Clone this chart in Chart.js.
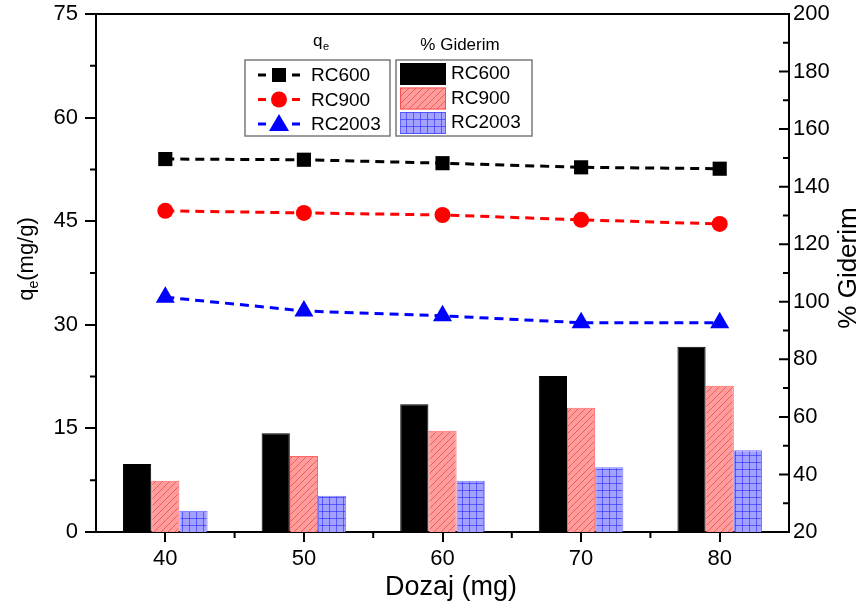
<!DOCTYPE html>
<html>
<head>
<meta charset="utf-8">
<script src="https://cdn.jsdelivr.net/npm/chart.js@4.4.0/dist/chart.umd.min.js"></script>
<style>
  body { margin: 0; background: #fff; }
  #wrap { width: 861px; height: 608px; position: relative; }
</style>
</head>
<body>
<div id="wrap"><canvas id="chart"></canvas></div>
<script>
// dose categories (mg)
const doses = ['40', '50', '60', '70', '80'];

// q_e (mg/g), left axis
const qeRC600 = [54.0, 53.9, 53.4, 52.8, 52.6];
const qeRC900 = [46.5, 46.2, 45.9, 45.2, 44.6];
const qeRC2003 = [34.0, 32.0, 31.3, 30.3, 30.3];

// % Giderim, right axis
const remRC600 = [43.6, 54.3, 64.4, 74.2, 84.4];
const remRC900 = [37.8, 46.4, 55.2, 63.2, 70.8];
const remRC2003 = [27.4, 32.6, 37.8, 42.5, 48.4];

const leftTicks = [0, 15, 30, 45, 60, 75];
const rightTicks = [20, 40, 60, 80, 100, 120, 140, 160, 180, 200];

const FONT = 'Liberation Sans, Arial, sans-serif';

function makePattern(bg, stroke, kind) {
  const c = document.createElement('canvas');
  c.width = 7; c.height = 7;
  const g = c.getContext('2d');
  g.fillStyle = bg;
  g.fillRect(0, 0, 7, 7);
  g.strokeStyle = stroke;
  g.lineWidth = 1;
  if (kind == 'diag') {
    g.beginPath();
    g.moveTo(-1, 8); g.lineTo(8, -1);
    g.moveTo(-1, 1); g.lineTo(1, -1);
    g.moveTo(6, 8); g.lineTo(8, 6);
    g.stroke();
  } else {
    g.beginPath();
    g.moveTo(0, 0.5); g.lineTo(7, 0.5);
    g.moveTo(0.5, 0); g.lineTo(0.5, 7);
    g.stroke();
  }
  return document.getElementById('chart').getContext('2d').createPattern(c, 'repeat');
}

const redHatch = makePattern('#ff9d9d', 'rgba(230,40,40,0.55)', 'diag');
const blueGrid = makePattern('#a3a3ff', 'rgba(40,40,255,0.6)', 'grid');

function drawMarker(ctx, style, x, y, color) {
  ctx.fillStyle = color;
  ctx.beginPath();
  if (style == 'rect') {
    ctx.rect(x - 7, y - 7, 14, 14);
  } else if (style == 'circle') {
    ctx.arc(x, y, 8, 0, Math.PI * 2);
  } else {
    ctx.moveTo(x, y - 10);
    ctx.lineTo(x + 10, y + 7);
    ctx.lineTo(x - 10, y + 7);
    ctx.closePath();
  }
  ctx.fill();
}

// no extra label overflow padding, the plot box is fixed
function fixBox(s, w, h) {
  if (w) s.width = w;
  if (h) s.height = h;
  s.paddingTop = 0; s.paddingBottom = 0;
  s.paddingLeft = 0; s.paddingRight = 0;
}

const decorPlugin = {
  id: 'decor',
  afterDraw(chart) {
    const ctx = chart.ctx;
    const a = chart.chartArea;
    const x = chart.scales.x, y = chart.scales.y, y2 = chart.scales.y2;
    ctx.save();
    ctx.strokeStyle = '#000';
    ctx.lineWidth = 2;
    // top frame
    ctx.beginPath();
    ctx.moveTo(a.left - 1, a.top); ctx.lineTo(a.right + 1, a.top);
    ctx.stroke();
    // left minor ticks (outward)
    ctx.beginPath();
    for (let v = 7.5; v < 75; v += 15) {
      const p = y.getPixelForValue(v);
      ctx.moveTo(a.left - 6, p); ctx.lineTo(a.left, p);
    }
    // right ticks (inward)
    for (let v = 20; v <= 200; v += 10) {
      const p = y2.getPixelForValue(v);
      const len = (v % 20 == 0) ? 10 : 6;
      ctx.moveTo(a.right - len, p); ctx.lineTo(a.right, p);
    }
    // x minor ticks between categories
    for (let i = 0; i < doses.length - 1; i++) {
      const p = (x.getPixelForValue(i) + x.getPixelForValue(i + 1)) / 2;
      ctx.moveTo(p, a.bottom); ctx.lineTo(p, a.bottom + 6);
    }
    ctx.stroke();

    // axis titles
    ctx.fillStyle = '#000';
    ctx.textBaseline = 'alphabetic';
    ctx.textAlign = 'center';
    ctx.font = '27px ' + FONT;
    ctx.fillText('Dozaj (mg)', 451, 595);

    ctx.save();
    ctx.translate(856, 268);
    ctx.rotate(-Math.PI / 2);
    ctx.font = '26px ' + FONT;
    ctx.fillText('% Giderim', 0, 0);
    ctx.restore();

    ctx.save();
    ctx.translate(33, 259);
    ctx.rotate(-Math.PI / 2);
    ctx.textAlign = 'left';
    ctx.font = '22px ' + FONT;
    const w1 = ctx.measureText('q').width;
    ctx.font = '14px ' + FONT;
    const w2 = ctx.measureText('e').width;
    ctx.font = '22px ' + FONT;
    const w3 = ctx.measureText('(mg/g)').width;
    let sx = -(w1 + w2 + w3) / 2;
    ctx.fillText('q', sx, 0);
    ctx.font = '14px ' + FONT;
    ctx.fillText('e', sx + w1, 5);
    ctx.font = '22px ' + FONT;
    ctx.fillText('(mg/g)', sx + w1 + w2, 0);
    ctx.restore();

    // legends
    ctx.lineWidth = 1.5;
    ctx.strokeStyle = '#7a7a7a';
    ctx.strokeRect(245, 60, 145, 76);
    ctx.strokeRect(396, 60, 136, 76);

    ctx.textBaseline = 'middle';
    ctx.font = '17px ' + FONT;
    ctx.textAlign = 'left';
    ctx.fillText('q', 313, 41);
    ctx.font = '11px ' + FONT;
    ctx.fillText('e', 323, 47);
    ctx.font = '17px ' + FONT;
    ctx.textAlign = 'center';
    ctx.fillText('% Giderim', 460, 45);

    const lineItems = chart.data.datasets.filter(d => d.type == 'line');
    const barItems = chart.data.datasets.filter(d => d.type == 'bar');
    ctx.font = '19px ' + FONT;
    ctx.textAlign = 'left';
    lineItems.forEach((d, i) => {
      const ly = 75 + i * 24.5;
      ctx.strokeStyle = d.borderColor;
      ctx.lineWidth = 3;
      ctx.setLineDash([]);
      ctx.beginPath();
      ctx.moveTo(258, ly); ctx.lineTo(266, ly);
      ctx.moveTo(292, ly); ctx.lineTo(300, ly);
      ctx.stroke();
      drawMarker(ctx, d.pointStyle, 279, ly, d.borderColor);
      ctx.fillStyle = '#000';
      ctx.fillText(d.label, 311, ly + 1);
    });
    barItems.forEach((d, i) => {
      const ty = 63 + i * 24.5;
      ctx.fillStyle = d.backgroundColor;
      ctx.fillRect(400, ty, 46, 22);
      ctx.strokeStyle = d.borderColor;
      ctx.lineWidth = 1;
      ctx.strokeRect(400.5, ty + 0.5, 45, 21);
      ctx.fillStyle = '#000';
      ctx.fillText(d.label, 451, ty + 11);
    });
    ctx.restore();
  }
};

function lineSet(label, data, color, style, radius) {
  return {
    type: 'line', label: label, data: data, yAxisID: 'y', order: 0,
    borderColor: color, backgroundColor: color, borderWidth: 3,
    borderDash: [9, 6], pointStyle: style, pointRadius: radius,
    pointBorderWidth: 0, pointBackgroundColor: color, tension: 0
  };
}

function barSet(label, data, fill, border) {
  return {
    type: 'bar', label: label, data: data, yAxisID: 'y2', order: 1,
    backgroundColor: fill, borderColor: border, borderWidth: 1,
    barPercentage: 1.0, categoryPercentage: 0.61
  };
}

new Chart(document.getElementById('chart'), {
  data: {
    labels: doses,
    datasets: [
      lineSet('RC600', qeRC600, '#000000', 'rect', 10),
      lineSet('RC900', qeRC900, '#ff0000', 'circle', 8),
      lineSet('RC2003', qeRC2003, '#0000ff', 'triangle', 11),
      barSet('RC600', remRC600, '#000000', '#000000'),
      barSet('RC900', remRC900, redHatch, 'rgba(255,60,60,0.8)'),
      barSet('RC2003', remRC2003, blueGrid, 'rgba(80,80,255,0.8)')
    ]
  },
  options: {
    responsive: true,
    maintainAspectRatio: false,
    animation: false,
    layout: { padding: { top: 14, left: 0, right: 0, bottom: 0 } },
    plugins: { legend: { display: false }, tooltip: { enabled: false } },
    scales: {
      x: {
        type: 'category',
        offset: true,
        afterFit(s) { fixBox(s, 0, 76); },
        grid: { offset: false, drawOnChartArea: false, drawTicks: true, tickLength: 10, color: '#000', lineWidth: 2 },
        border: { display: true, color: '#000', width: 2 },
        ticks: { color: '#000', font: { family: FONT, size: 22 }, padding: 4 }
      },
      y: {
        position: 'left',
        min: 0, max: 75,
        afterFit(s) { fixBox(s, 96, 0); },
        afterBuildTicks(s) { s.ticks = leftTicks.map(v => ({ value: v })); },
        grid: { drawOnChartArea: false, drawTicks: true, tickLength: 11, color: '#000', lineWidth: 2 },
        border: { display: true, color: '#000', width: 2 },
        ticks: { color: '#000', font: { family: FONT, size: 22 }, padding: 7 }
      },
      y2: {
        position: 'right',
        min: 20, max: 200,
        afterFit(s) { fixBox(s, 72, 0); },
        afterBuildTicks(s) { s.ticks = rightTicks.map(v => ({ value: v })); },
        grid: { drawOnChartArea: false, drawTicks: false, color: '#000' },
        border: { display: true, color: '#000', width: 2 },
        ticks: { color: '#000', font: { family: FONT, size: 22 }, padding: 4 }
      }
    }
  },
  plugins: [decorPlugin]
});
</script>
</body>
</html>
